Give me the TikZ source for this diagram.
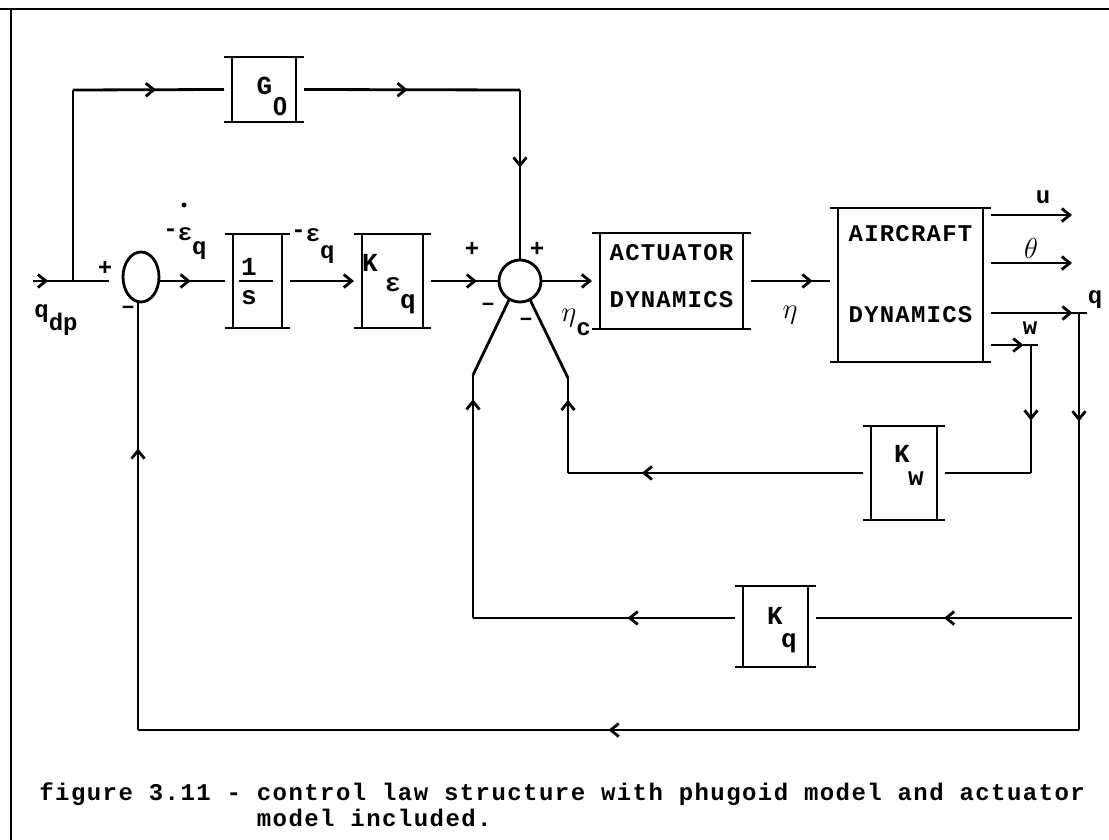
\documentclass[tikz,border=0pt]{standalone}
\usepackage{fontspec}
\newfontfamily\lblfont{Liberation Mono}
\newfontfamily\zerofont{Liberation Sans}
\newfontfamily\blkfont{Liberation Mono}[LetterSpace=5]
\newfontfamily\capfont{Liberation Mono}[LetterSpace=6]
\usetikzlibrary{arrows.meta, decorations.markings, shapes.geometric}

\tikzset{
  sig/.style={line width=1.4pt},
  endarrow/.style={-{Straight Barb[length=4pt,width=6.5pt]}},
  arr at/.style={postaction={decorate}, decoration={markings,
      mark=at position #1 with {\arrow{Straight Barb[length=4pt,width=6.5pt]}}}},
  blk/.style={inner sep=0pt, outer xsep=4pt, outer ysep=0pt,
      font=\lblfont\bfseries\fontsize{13}{15}\selectfont},
  lbl/.style={inner sep=0pt, font=\lblfont\bfseries\fontsize{12}{14}\selectfont},
  greek/.style={inner sep=0pt, font=\fontsize{14}{16}\selectfont},
  captxt/.style={inner sep=0pt, anchor=base west,
      font=\capfont\bfseries\fontsize{12}{14}\selectfont},
}

% text piece centred at dx, baseline raised by dy
\newcommand\place[3]{\makebox[0pt]{\hspace*{#1}\hspace*{#1}\raisebox{#2}[0pt][0pt]{#3}}}
\newcommand\blkname[1]{{\blkfont\bfseries\fontsize{12}{14}\selectfont #1}}
% block: two sides and two overhanging bars
\newcommand\drawblk[1]{%
  \draw (#1.north west) -- (#1.north east)
        (#1.south west) -- (#1.south east)
        ([xshift=4pt]#1.north west) -- ([xshift=4pt]#1.south west)
        ([xshift=-4pt]#1.north east) -- ([xshift=-4pt]#1.south east);}

\begin{document}
\begin{tikzpicture}[x=0.5pt, y=-0.5pt, sig]
\useasboundingbox (0,0) rectangle (1109,840);

% frame
\draw (0,9) -- (1109,9);
\draw (11,9) -- (11,840);

% blocks
\node[blk, minimum width=32pt, minimum height=32.5pt] (g0) at (264,89.5)
  {\place{0.25pt}{-2.7pt}{G}\place{8pt}{-13.2pt}{\zerofont\bfseries 0}};
\node[blk, minimum width=24.5pt, minimum height=47pt] (inv) at (257.5,281)
  {\place{-4.25pt}{3pt}{1}\place{-0.75pt}{-0.7pt}{\rule{17pt}{1.4pt}}\place{-4.25pt}{-11.5pt}{s}};
\node[blk, minimum width=30.5pt, minimum height=47pt] (kq1) at (392.5,281)
  {\place{-11.25pt}{5pt}{K}\place{0.25pt}{-5pt}{ε}\place{7.75pt}{-13.5pt}{q}};
\node[blk, minimum width=71.5pt, minimum height=48pt] (act) at (671.5,281)
  {\place{0pt}{10.5pt}{\blkname{ACTUATOR}}\place{0pt}{-13pt}{\blkname{DYNAMICS}}};
\node[blk, minimum width=72.5pt, minimum height=77pt] (air) at (910.5,285)
  {\place{0pt}{21.5pt}{\blkname{AIRCRAFT}}\place{0pt}{-18.5pt}{\blkname{DYNAMICS}}};
\node[blk, minimum width=33pt, minimum height=47pt] (kw) at (904,473)
  {\place{-1pt}{5.25pt}{K}\place{6pt}{-6pt}{w}};
\node[blk, minimum width=32.5pt, minimum height=40.5pt] (kqq) at (775.5,626.5)
  {\place{-0.25pt}{1pt}{K}\place{6.75pt}{-10.25pt}{q}};
\foreach \b in {g0,inv,kq1,act,air,kw,kqq} {\drawblk{\b}}

% summing junctions
\node[ellipse, draw, inner sep=0pt, minimum width=18pt, minimum height=25pt] (s1) at (141,277) {};
\node[circle, draw, inner sep=0pt, minimum size=21pt] (s2) at (520,281) {};

% corners
\coordinate (qin) at (33,281);
\coordinate (ffb) at (73,90);
\coordinate (ffc) at (520,90);
\coordinate (uo) at (1072,215);
\coordinate (tho) at (1072,263);
\coordinate (qo) at (1087,313);
\coordinate (qv) at (1079,313);
\coordinate (wo) at (1038,345);
\coordinate (wv) at (1031,345);
\coordinate (wb) at (1031,473);
\coordinate (qb) at (1079,730);
\coordinate (fbl) at (138,730);
\coordinate (kqr) at (1072,618);
\coordinate (lgl) at (473,618);
\coordinate (lglt) at (473,375);
\coordinate (lgr) at (568,473);
\coordinate (lgrt) at (568,378);
\coordinate (edot) at (184,205);

% forward path
\draw[arr at=.17, shorten >=6.5pt] (qin) -- (s1.west |- qin);
\draw (qin -| ffb) -- (ffb);
\draw[arr at=.55] (ffb) -- (g0.west);
\draw[arr at=.48] (g0.east) -- (ffc);
\draw[arr at=.46] (ffc) -- (s2.north);
\draw[arr at=.47] (s1.east |- inv.west) -- (inv.west);
\draw[endarrow] (inv.east) -- (kq1.west);
\draw[arr at=.69] (kq1.east) -- (s2.west);
\draw[endarrow] (s2.east) -- (act.west);
\draw[arr at=.78] (act.east) -- (air.west |- act.east);

% outputs
\draw[endarrow] (air.east |- uo) -- (uo);
\draw[endarrow] (air.east |- tho) -- (tho);
\draw[arr at=.85] (air.east |- qo) -- (qo);
\draw[arr at=.69] (air.east |- wo) -- (wo);

% feedback loops
\draw[arr at=.26] (qv) -- (qb);
\draw[arr at=.5] (qb) -- (fbl);
\draw[arr at=.66] (fbl) -- (fbl |- s1.south);
\draw[arr at=.59] (wv) -- (wb);
\draw (wb) -- (kw.east |- wb);
\draw[arr at=.75] (kw.west |- wb) -- (lgr);
\draw[arr at=.77] (lgr) -- (lgrt);
\draw (lgrt) -- (s2.-62);
\draw[arr at=.5] (kqr) -- (kqq.east |- kqr);
\draw[arr at=.41] (kqq.west |- kqr) -- (lgl);
\draw[arr at=.9] (lgl) -- (lglt);
\draw (lglt) -- (s2.-120);

% signal labels
\node[lbl, anchor=base west] (qdp) at (33,317) {q\raisebox{-6.5pt}{dp}};
\node[lbl] (p1) at (105,268) {+};
\node[lbl] (m1) at (128,310) {–};
\node[lbl, anchor=base west] (e1) at (162,241) {\raisebox{2pt}{-}ε\raisebox{-6.5pt}{q}};
\fill (edot) circle (2.5);
\node[lbl, anchor=base west] (e2) at (290,242) {\raisebox{2pt}{-}ε\raisebox{-8.5pt}{q}};
\node[lbl] (p2) at (472,249) {+};
\node[lbl] (p3) at (537,249) {+};
\node[lbl] (m2) at (488,307) {–};
\node[lbl] (m3) at (526,322) {–};
\node[greek, anchor=base west] (etac) at (560,321)
  {$\eta$\raisebox{-7pt}{\lblfont\bfseries\fontsize{12}{14}\selectfont c}};
\node[greek] (eta) at (790,315) {$\eta$};
\node[greek] (theta) at (1031,248) {$\theta$};
\node[lbl] (ulbl) at (1043,197) {u};
\node[lbl] (qlbl) at (1095,300) {q};
\node[lbl] (wlbl) at (1030,328) {w};

% caption
\node[captxt] (cap1) at (38,800) {figure 3.11 - control law structure with phugoid model and actuator};
\node[captxt] (cap2) at (38,826) {\phantom{figure 3.11 - }model included.};
\end{tikzpicture}
\end{document}
